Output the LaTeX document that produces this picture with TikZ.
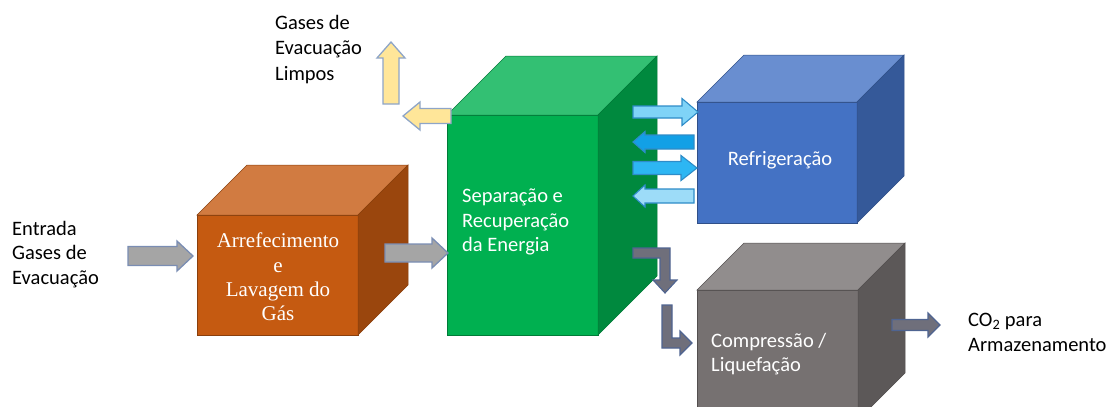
\documentclass[tikz,border=0pt]{standalone}
\usepackage{fontspec}
\setmainfont{Carlito}
\newfontfamily\timesfont{Liberation Serif}
\usepackage{tikz}
\usetikzlibrary{positioning}
\usetikzlibrary{calc}

\definecolor{orng}{HTML}{C55A11}
\definecolor{grn}{HTML}{00B050}
\definecolor{blu}{HTML}{4472C4}
\definecolor{gry}{HTML}{767171}
\definecolor{pipe}{HTML}{A5A5A5}
\definecolor{pipeline}{HTML}{7A8DB3}
\definecolor{exhaust}{HTML}{FFE699}
\definecolor{exhaustline}{HTML}{8EA5C8}
\definecolor{coldA}{HTML}{7FD3F7}
\definecolor{coldB}{HTML}{12A0E6}
\definecolor{coldC}{HTML}{2DB6F3}
\definecolor{coldD}{HTML}{9DDCF8}
\definecolor{coldline}{HTML}{2E8CC8}
\definecolor{slate}{HTML}{6F6F7B}
\definecolor{slateline}{HTML}{4F6491}

\tikzset{
  cubeface/.style={rectangle, inner sep=0pt, outer sep=0pt, anchor=north west,
    fill=#1, draw=#1!70!black, line width=0.5pt},
  txt/.style={inner sep=0pt, align=left, font=\fontsize{20.5}{24.5}\selectfont},
  gasarrow/.style={fill=pipe, draw=pipeline, line width=1.3pt},
  exhaustarrow/.style={fill=exhaust, draw=exhaustline, line width=1.3pt},
  coldarrow/.style={fill=#1, draw=coldline, line width=1.1pt},
  productarrow/.style={fill=slate, draw=slateline, line width=1.1pt},
}

% block arrow: style, tail, tip, half shaft, half head, head length
\newcommand{\blockarrow}[6]{%
  \draw[#1] ($(#2)!#4pt!90:(#3)$)
    -- ($(#3)!#6pt!(#2)!#4pt!90:(#3)$)
    -- ($(#3)!#6pt!(#2)!#5pt!90:(#3)$)
    -- (#3)
    -- ($(#3)!#6pt!(#2)!#5pt!-90:(#3)$)
    -- ($(#3)!#6pt!(#2)!#4pt!-90:(#3)$)
    -- ($(#2)!#4pt!-90:(#3)$) -- cycle;
}

\begin{document}
\begin{tikzpicture}[x=1pt, y=-1pt]
  \useasboundingbox (0,0) rectangle (1114,407);
  \clip (0,0) rectangle (1114,407);

  % cubes
  \foreach \nm/\px/\py/\fw/\fh/\dep/\col in {
    cool/197/215/161/120/50/orng,
    sep/447/115/151/220/59/grn,
    refr/697/102/160/121/47/blu,
    comp/697/290/161/130/47/gry} {
      \node[cubeface=\col, minimum width=\fw, minimum height=\fh] (\nm) at (\px,\py) {};
      \filldraw[fill=\col!80!white, draw=\col!70!black, line width=0.5pt]
        (\nm.north west) -- ++(\dep,-\dep) -- ++(\fw,0) -- (\nm.north east) -- cycle;
      \filldraw[fill=\col!78!black, draw=\col!70!black, line width=0.5pt]
        (\nm.north east) -- ++(\dep,-\dep) -- ++(0,\fh) -- (\nm.south east) -- cycle;
    }

  % cube texts
  \node[txt, align=center, anchor=north, text=white,
        font=\timesfont\fontsize{21}{24.3}\selectfont] (cooltext) at (278,233)
        {Arrefecimento\\e\\Lavagem do\\Gás};
  \node[txt, anchor=north west, text=white] (septext) at (462,189)
        {Separação e\\Recuperação\\da Energia};
  \node[txt, anchor=base, text=white] (refrtext) at (780,165) {Refrigeração};
  \node[txt, anchor=north west, text=white] (comptext) at (711,333)
        {Compressão /\\Liquefação};

  % outside labels
  \node[txt, anchor=north west] (inlet) at (12,221) {Entrada\\Gases de\\Evacuação};
  \node[txt, anchor=north west, font=\fontsize{20.5}{25.5}\selectfont] (clean) at (275,15)
        {Gases de\\Evacuação\\Limpos};
  \node[txt, anchor=north west] (store) at (968,313) {CO\textsubscript{2} para\\Armazenamento};

  % arrow ends
  \coordinate (intail) at (128,256);   \coordinate (intip) at (193,256);
  \coordinate (washtail) at (385,253); \coordinate (washtip) at (448,253);
  \coordinate (uptail) at (391,104);   \coordinate (uptip) at (391,42);
  \coordinate (venttail) at (451,116); \coordinate (venttip) at (403,116);
  \coordinate (c1tail) at (633,112);   \coordinate (c1tip) at (698,112);
  \coordinate (c2tail) at (694,142);   \coordinate (c2tip) at (633,142);
  \coordinate (c3tail) at (633,168);   \coordinate (c3tip) at (697,168);
  \coordinate (c4tail) at (694,196);   \coordinate (c4tip) at (633,196);
  \coordinate (outtail) at (892,325);  \coordinate (outtip) at (940,325);

  % gas flow
  \blockarrow{gasarrow}{intail}{intip}{9.5}{15}{16}
  \blockarrow{gasarrow}{washtail}{washtip}{9}{15}{16}
  \blockarrow{exhaustarrow}{uptail}{uptip}{8}{14}{16}
  \blockarrow{exhaustarrow}{venttail}{venttip}{7.5}{14}{17}

  % cooling loop
  \blockarrow{coldarrow=coldA}{c1tail}{c1tip}{6}{13.5}{16}
  \blockarrow{coldarrow=coldB}{c2tail}{c2tip}{7}{10.5}{12}
  \blockarrow{coldarrow=coldC}{c3tail}{c3tip}{6.5}{12.5}{16}
  \blockarrow{coldarrow=coldD}{c4tail}{c4tip}{7}{11}{12}

  % CO2 line
  \coordinate (drain) at (633,248);
  \draw[productarrow] (drain) -- ++(37,0) -- ++(0,32) -- ++(7,0) -- ++(-12,13)
    -- ++(-12,-13) -- ++(7,0) -- ++(0,-22) -- ++(-27,0) -- cycle;
  \coordinate (feed) at (662,305);
  \draw[productarrow] (feed) -- ++(10,0) -- ++(0,33) -- ++(8,0) -- ++(0,-7) -- ++(12,12)
    -- ++(-12,12) -- ++(0,-7) -- ++(-18,0) -- cycle;
  \blockarrow{productarrow}{outtail}{outtip}{5.5}{12}{12}
\end{tikzpicture}
\end{document}
